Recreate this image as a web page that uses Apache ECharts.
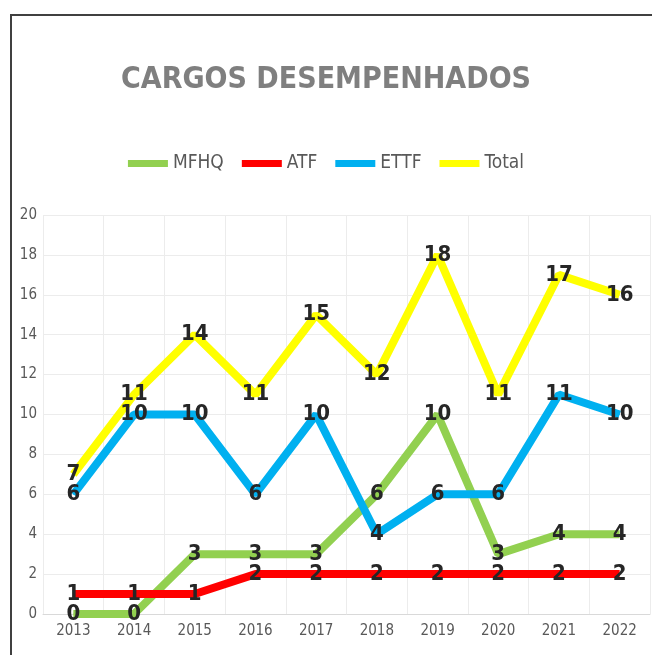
<!DOCTYPE html>
<html>
<head>
<meta charset="utf-8">
<script src="https://cdn.jsdelivr.net/npm/echarts@6/dist/echarts.min.js"></script>
<style>
  html, body { margin: 0; padding: 0; background: #fff; }
  #chart { width: 652px; height: 655px; }
</style>
</head>
<body>
<div id="chart"></div>
<script>
const anos = ["2013", "2014", "2015", "2016", "2017", "2018", "2019", "2020", "2021", "2022"];
const mfhq = [0, 0, 3, 3, 3, 6, 10, 3, 4, 4];
const atf = [1, 1, 1, 2, 2, 2, 2, 2, 2, 2];
const ettf = [6, 10, 10, 6, 10, 4, 6, 6, 11, 10];
const total = [7, 11, 14, 11, 15, 12, 18, 11, 17, 16];

const fonte = "'Liberation Sans Narrow', 'DejaVu Sans Condensed', sans-serif";

function serie(nome, cor, dados) {
  return {
    name: nome,
    type: "line",
    data: dados,
    symbol: "circle",
    symbolSize: 1,
    showSymbol: true,
    lineStyle: { color: cor, width: 8 },
    itemStyle: { color: cor },
    label: {
      show: true,
      position: "inside",
      color: "#262626",
      fontFamily: fonte,
      fontWeight: "bold",
      fontSize: 22,
    },
  };
}

const myChart = echarts.init(document.getElementById("chart"));
myChart.setOption({
  animation: false,
  title: {
    text: "CARGOS DESEMPENHADOS",
    left: "center",
    top: 60,
    textStyle: {
      fontFamily: fonte,
      fontSize: 30,
      fontWeight: "bold",
      color: "#7f7f7f",
    },
  },
  legend: {
    top: 149,
    left: "center",
    icon: "rect",
    itemWidth: 40,
    itemHeight: 7,
    itemGap: 18,
    textStyle: { fontFamily: fonte, fontSize: 19, color: "#595959" },
    data: ["MFHQ", "ATF", "ETTF", "Total"],
  },
  grid: { left: 43, right: 2, top: 215, bottom: 41 },
  xAxis: {
    type: "category",
    data: anos,
    axisLine: { lineStyle: { color: "#d9d9d9" } },
    axisTick: { show: false },
    splitLine: { show: true, lineStyle: { color: "#ececec" } },
    axisLabel: { fontFamily: fonte, fontSize: 15, color: "#595959", margin: 10 },
  },
  yAxis: {
    type: "value",
    min: 0,
    max: 20,
    interval: 2,
    axisLine: { show: false },
    axisTick: { show: false },
    splitLine: { lineStyle: { color: "#ececec" } },
    axisLabel: { fontFamily: fonte, fontSize: 15, color: "#595959", margin: 6 },
  },
  graphic: [
    { type: "line", shape: { x1: 10, y1: 15, x2: 652, y2: 15 }, style: { stroke: "#404040", lineWidth: 2 } },
    { type: "line", shape: { x1: 11, y1: 14, x2: 11, y2: 655 }, style: { stroke: "#404040", lineWidth: 2 } },
  ],
  series: [
    serie("MFHQ", "#92d050", mfhq),
    serie("ATF", "#ff0000", atf),
    serie("ETTF", "#00b0f0", ettf),
    serie("Total", "#ffff00", total),
  ],
});
</script>
</body>
</html>
